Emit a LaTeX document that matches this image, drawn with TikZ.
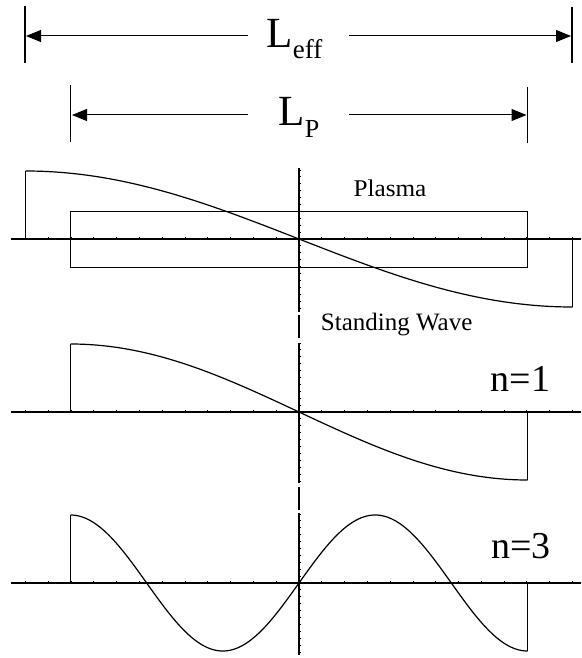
\documentclass[tikz,border=0pt]{standalone}
\usepackage{fontspec}
\setmainfont{Liberation Serif}
\usetikzlibrary{arrows.meta}
\begin{document}
\begin{tikzpicture}[x=1pt,y=-1pt,
  ln/.style={line width=1.2pt},
  tk/.style={line width=0.9pt},
  wave/.style={line width=1.2pt, line join=round},
  dimarrow/.style={line width=1pt,-{Triangle[length=15pt,width=12pt]}},
  lbl/.style={inner sep=0pt, anchor=base}]
\useasboundingbox (0,0) rectangle (581,658);

% ---- dimension lines ----
\coordinate (effLtop) at (25,6);   \coordinate (effLbot) at (25,63);
\coordinate (effRtop) at (572,7);  \coordinate (effRbot) at (572,63);
\coordinate (effL) at (26,36);     \coordinate (effR) at (571,36);
\coordinate (effgL) at (248,36);   \coordinate (effgR) at (349,36);
\draw[ln] (effLtop) -- (effLbot);
\draw[ln] (effRtop) -- (effRbot);
\draw[dimarrow] (effgL) -- (effL);
\draw[dimarrow] (effgR) -- (effR);
\node[lbl, anchor=base west] (leff) at (266.5,47.7)
  {\fontsize{43}{43}\selectfont L\raisebox{-10.6pt}{\fontsize{27}{27}\selectfont eff}};

\coordinate (pLtop) at (70.7,85);   \coordinate (pLbot) at (70.7,142);
\coordinate (pRtop) at (527.7,87);  \coordinate (pRbot) at (527.7,143);
\coordinate (pL) at (72,115);       \coordinate (pR) at (526.5,115);
\coordinate (pgL) at (248,115);     \coordinate (pgR) at (349,115);
\draw[ln] (pLtop) -- (pLbot);
\draw[ln] (pRtop) -- (pRbot);
\draw[dimarrow] (pgL) -- (pL);
\draw[dimarrow] (pgR) -- (pR);
\node[lbl, anchor=base west] (lp) at (278.3,125)
  {\fontsize{43}{43}\selectfont L\raisebox{-12pt}{\fontsize{26}{26}\selectfont P}};

% ---- axes ----
\foreach \ay in {239,412,583} {
  \draw[ln] (11,\ay) -- (581,\ay);
  \foreach \k in {-12,...,12}
    \draw[tk] ({299+22.79*\k},\ay) -- ++(0,-2.5);
  \foreach \k in {1,...,10} {
    \draw[tk] (299,{\ay-6.9*\k}) -- ++(2.2,0);
    \draw[tk] (299,{\ay+6.9*\k}) -- ++(2.2,0);
  }
}
\draw[ln] (299,168) -- (299,312);
\draw[ln] (299,315) -- (299,338);
\draw[ln] (299,343) -- (299,483);
\draw[ln] (299,487) -- (299,510);
\draw[ln] (299,513) -- (299,655);

% ---- plasma box ----
\draw[ln] (70.7,211.5) rectangle (527.7,267.5);
\node[lbl] (plasma) at (390,196.7) {\fontsize{24}{24}\selectfont\scalebox{1.05}[1]{Plasma}};
\node[lbl, anchor=base west] (sw) at (320.7,330) {\fontsize{25}{25}\selectfont Standing Wave};

% ---- panel 1: L_eff wave ----
\draw[wave] (25.5,239) -- (25.5,171);
\draw[wave] plot[domain=25.5:572.5,samples=200] (\x,{239+68*sin((\x-299)/273.5*90)});
\draw[wave] (572.5,307) -- (572.5,239);

% ---- panel 2: n=1 ----
\draw[wave] (70.7,412) -- (70.7,344);
\draw[wave] plot[domain=70.7:527.7,samples=200] (\x,{412+68*sin((\x-299)/228.5*90)});
\draw[wave] (527.7,480) -- (527.7,412);
\node[lbl] (n1) at (520.5,391.7) {\fontsize{38}{38}\selectfont n=1};

% ---- panel 3: n=3 ----
\draw[wave] (70.7,583) -- (70.7,515);
\draw[wave] plot[domain=70.7:527.7,samples=300] (\x,{583-68*sin((\x-299)/228.5*270)});
\draw[wave] (527.7,651) -- (527.7,583);
\node[lbl] (n3) at (521,558.3) {\fontsize{38}{38}\selectfont n=3};
\end{tikzpicture}
\end{document}
